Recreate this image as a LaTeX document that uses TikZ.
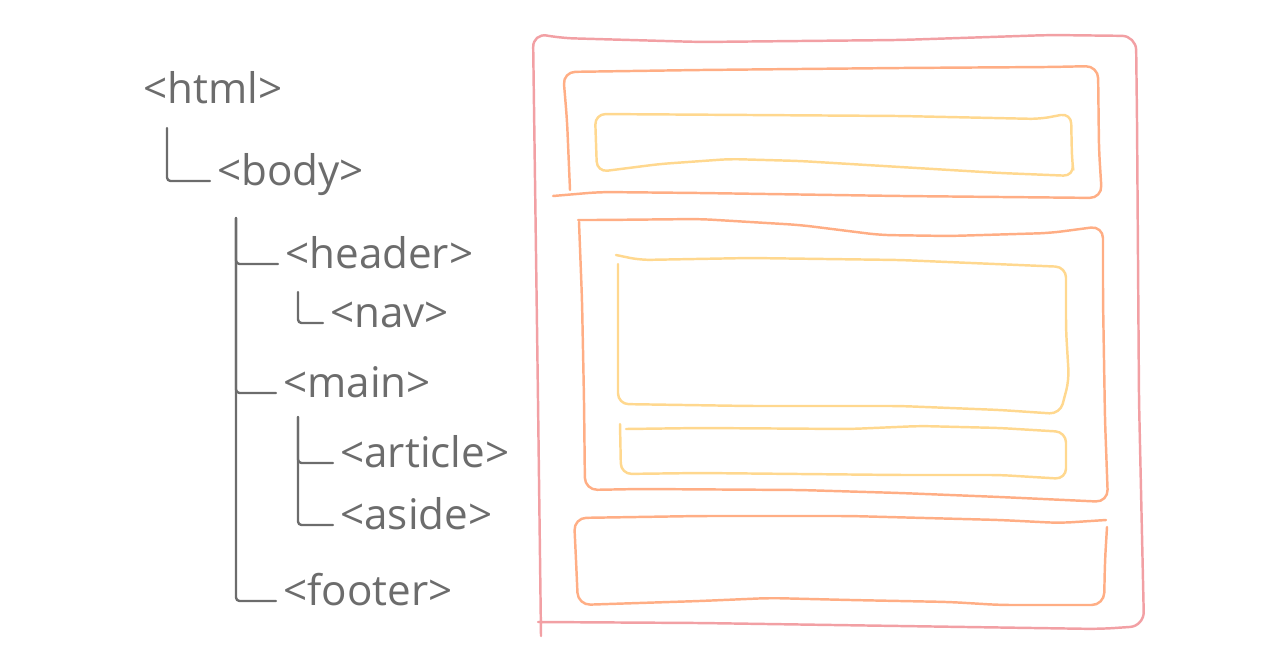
\documentclass[tikz,border=0pt]{standalone}
\usepackage{fontspec}
\setmainfont{Open Sans}
\usepackage{tikz}
\usetikzlibrary{positioning, calc}
\definecolor{inkgray}{HTML}{6C6C6C}
\definecolor{pagered}{HTML}{F2A0A4}
\definecolor{regionorange}{HTML}{FFAE85}
\definecolor{itemyellow}{HTML}{FFD88F}

\begin{document}
\begin{tikzpicture}[
    x=0.02cm, y=-0.02cm,
    tag/.style={anchor=west, inner xsep=4pt, inner ysep=0pt, text=inkgray, font=\fontsize{24}{28}\selectfont, text height=0.72em, text depth=0.22em},
    treeline/.style={draw=inkgray, line width=1.35pt, line cap=round, rounded corners=2pt},
    pagebox/.style={draw=pagered, line width=1.4pt, line cap=round, rounded corners=8pt},
    regionbox/.style={draw=regionorange, line width=1.4pt, line cap=round, rounded corners=7pt},
    itembox/.style={draw=itemyellow, line width=1.4pt, line cap=round, rounded corners=6pt},
  ]
  \useasboundingbox (0,0) rectangle (1280,652);
  % Tree of tags
  \node[tag] (html) at (136,99) {<html>};
  \node[tag] (body) at (210,181) {<body>};
  \node[tag] (header) at (278,264) {<header>};
  \node[tag] (nav) at (323,323) {<nav>};
  \node[tag] (main) at (276,393) {<main>};
  \node[tag] (article) at (333,463) {<article>};
  \node[tag] (aside) at (333,525) {<aside>};
  \node[tag] (footer) at (276,601) {<footer>};
  % Stems
  \coordinate (htmlstem) at (167,128);
  \coordinate (bodystem) at (236,218);
  \coordinate (headerstem) at (298,292);
  \coordinate (mainstem) at (298,417);
  % Branches
  \draw[treeline] (htmlstem) |- (body.west);
  \draw[treeline] (bodystem) |- (header.west);
  \draw[treeline] (bodystem) |- (main.west);
  \draw[treeline] (bodystem) |- (footer.west);
  \draw[treeline] (headerstem) |- (nav.west);
  \draw[treeline] (mainstem) |- (article.west);
  \draw[treeline] (mainstem) |- (aside.west);
  % Page
  \draw[pagebox] (541,636) -- (538,400) -- (533,33) -- (560,38) -- (700,42) -- (900,40)
    -- (1050,35) -- (1136,36) -- (1137,120) -- (1139,400) -- (1144,626) -- (1100,629)
    -- (900,626) -- (700,623) -- (538,622);
  % Header region
  \draw[regionbox] (570,190) -- (567,120) -- (563,72) -- (700,70) -- (900,68) -- (1050,67)
    -- (1098,66) -- (1099,150) -- (1102,198) -- (900,196) -- (700,193) -- (600,192) -- (553,196);
  % Nav item
  \draw[itembox] (595,114) -- (750,115) -- (900,116) -- (1040,119) -- (1071,113) -- (1072,160)
    -- (1074,176) -- (1000,173) -- (900,167) -- (800,161) -- (730,159) -- (660,164) -- (597,172)
    -- cycle;
  % Main region
  \draw[regionbox] (578,220) -- (600,220) -- (700,219) -- (800,225) -- (880,235) -- (950,236)
    -- (1050,233) -- (1103,226) -- (1103,300) -- (1105,420) -- (1108,502) -- (1000,497)
    -- (900,493) -- (800,490) -- (640,489) -- (585,490) -- (584,400) -- (582,300) -- (579,222);
  % Article item
  \draw[itembox] (616,255) -- (640,260) -- (750,258) -- (900,260) -- (1066,267) -- (1066,330)
    -- (1069,380) -- (1060,414) -- (1000,410) -- (900,406) -- (750,406) -- (618,404)
    -- (618,330) -- (618,264);
  % Aside item
  \draw[itembox] (620,424) -- (621,474) -- (700,473) -- (900,475) -- (1000,475) -- (1066,479)
    -- (1066,432) -- (1000,428) -- (920,426) -- (850,429) -- (700,428) -- (626,429);
  % Footer region
  \draw[regionbox] (1106,520) -- (1060,523) -- (1000,520) -- (850,516) -- (700,516) -- (574,518)
    -- (576,560) -- (578,605) -- (700,601) -- (770,598) -- (850,600) -- (950,602) -- (1000,605)
    -- (1104,605) -- (1105,560) -- (1107,527);
\end{tikzpicture}
\end{document}
